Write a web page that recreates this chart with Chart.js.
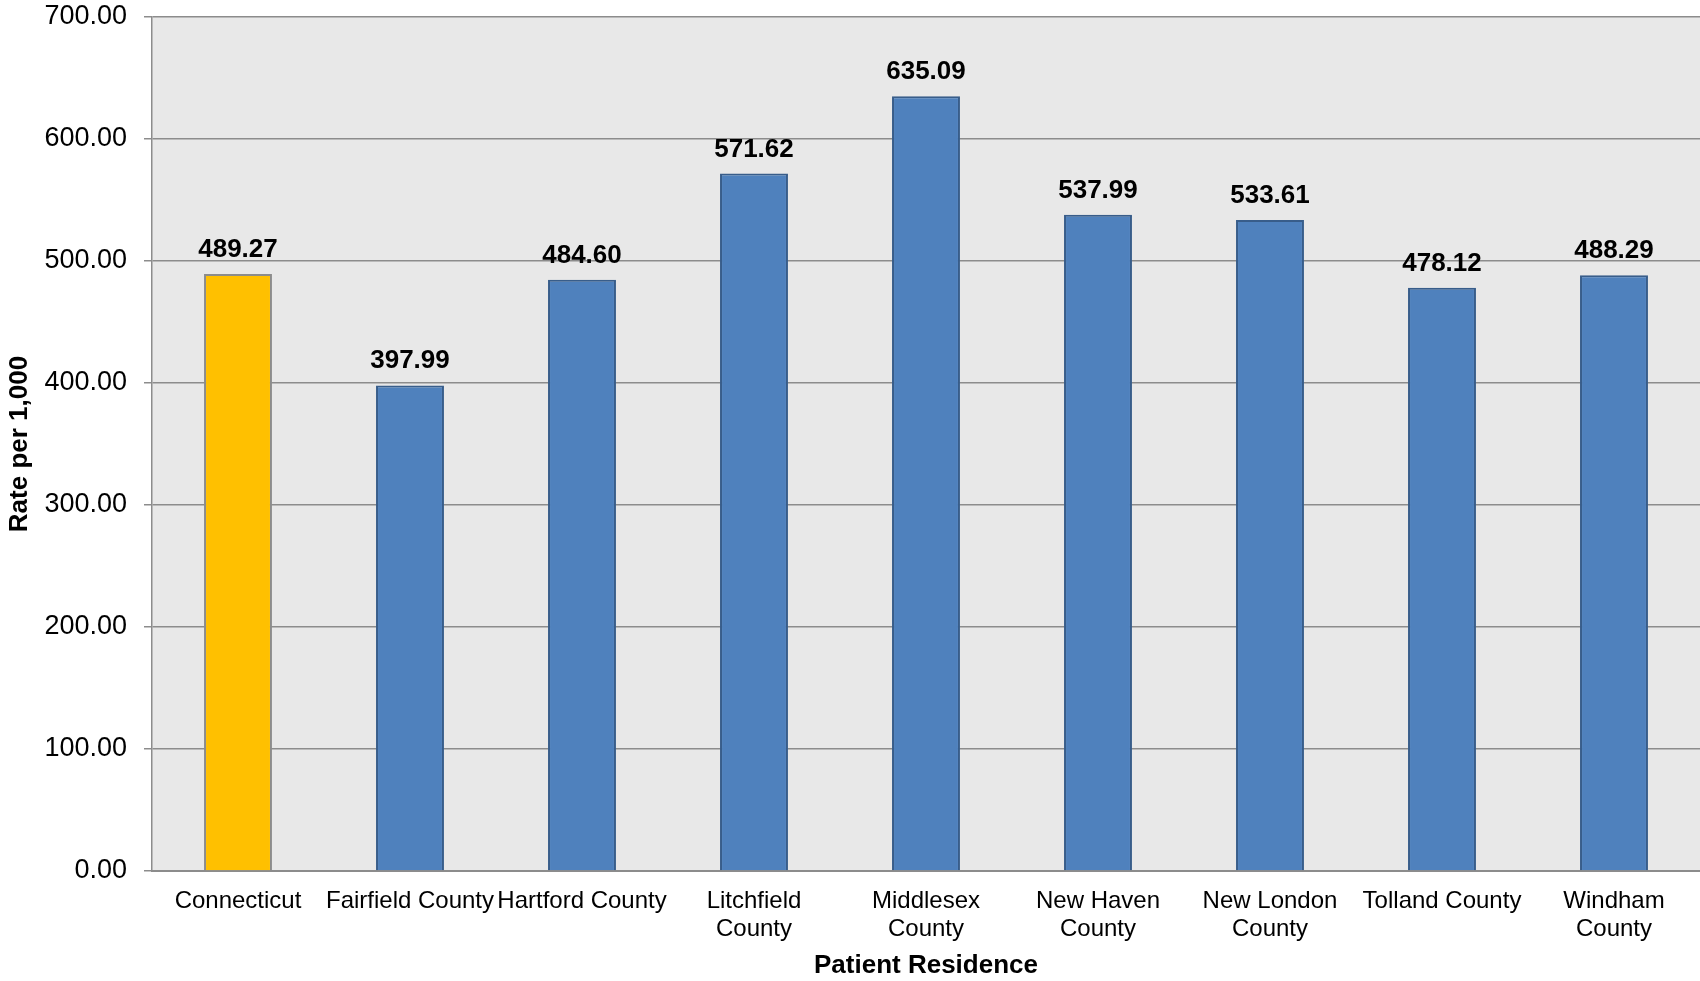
<!DOCTYPE html>
<html>
<head>
<meta charset="utf-8">
<script src="https://cdn.jsdelivr.net/npm/chart.js@4/dist/chart.umd.min.js"></script>
<style>
  html, body { margin: 0; padding: 0; background: #fff; }
  #wrap { width: 1700px; height: 981px; }
</style>
</head>
<body>
<div id="wrap"><canvas id="rateChart" width="1700" height="981"></canvas></div>
<script>
var counties = ['Connecticut', 'Fairfield County', 'Hartford County', ['Litchfield', 'County'], ['Middlesex', 'County'], ['New Haven', 'County'], ['New London', 'County'], 'Tolland County', ['Windham', 'County']];
var rates = [489.27, 397.99, 484.60, 571.62, 635.09, 537.99, 533.61, 478.12, 488.29];
var barColors = ['#FFC000', '#4F81BD', '#4F81BD', '#4F81BD', '#4F81BD', '#4F81BD', '#4F81BD', '#4F81BD', '#4F81BD'];
var borderColors = ['#8C8C8C', '#385D8A', '#385D8A', '#385D8A', '#385D8A', '#385D8A', '#385D8A', '#385D8A', '#385D8A'];

var font = "'Liberation Sans', Arial, sans-serif";

// grey plot background
var plotBg = {
  id: 'plotBg',
  beforeDraw: function(chart) {
    var a = chart.chartArea;
    var ctx = chart.ctx;
    ctx.save();
    ctx.fillStyle = '#E8E8E8';
    ctx.fillRect(a.left, a.top, a.right - a.left, a.bottom - a.top);
    ctx.restore();
  }
};

// value labels above the bars
var valueLabels = {
  id: 'valueLabels',
  afterDatasetsDraw: function(chart) {
    var ctx = chart.ctx;
    var meta = chart.getDatasetMeta(0);
    ctx.save();
    ctx.font = 'bold 26px ' + font;
    ctx.fillStyle = '#000';
    ctx.textAlign = 'center';
    ctx.textBaseline = 'alphabetic';
    meta.data.forEach(function(bar, i) {
      ctx.fillText(rates[i].toFixed(2), bar.x, bar.y - 17);
    });
    ctx.restore();
  }
};

new Chart(document.getElementById('rateChart'), {
  type: 'bar',
  data: {
    labels: counties,
    datasets: [{
      data: rates,
      backgroundColor: barColors,
      borderColor: borderColors,
      borderWidth: 2,
      categoryPercentage: 1,
      barPercentage: 0.395
    }]
  },
  options: {
    responsive: false,
    animation: false,
    layout: { padding: { top: 17, right: 0, left: 0, bottom: 0 } },
    plugins: {
      legend: { display: false },
      tooltip: { enabled: false }
    },
    scales: {
      x: {
        grid: { display: false },
        border: { color: '#8C8C8C', width: 2 },
        ticks: {
          color: '#000',
          padding: 8,
          maxRotation: 0,
          autoSkip: false,
          font: { family: font, size: 24, lineHeight: 1.17 }
        },
        title: {
          display: true,
          text: 'Patient Residence',
          color: '#000',
          padding: { top: 6, bottom: 0 },
          font: { family: font, size: 26, weight: 'bold' }
        },
        afterFit: function(scale) {
          scale.height = 110;
          scale.paddingLeft = 0;
          scale.paddingRight = 0;
        }
      },
      y: {
        min: 0,
        max: 700,
        grid: { color: '#8C8C8C', lineWidth: 1.5, tickLength: 8 },
        border: { color: '#8C8C8C', width: 1.5 },
        ticks: {
          stepSize: 100,
          color: '#000',
          padding: 17,
          font: { family: font, size: 27 },
          callback: function(v) { return v.toFixed(2); }
        },
        title: {
          display: true,
          text: 'Rate per 1,000',
          color: '#000',
          padding: { top: 4, bottom: 0 },
          font: { family: font, size: 26, weight: 'bold' }
        },
        afterFit: function(scale) {
          scale.width = 152;
          scale.paddingTop = 0;
          scale.paddingBottom = 0;
        }
      }
    }
  },
  plugins: [plotBg, valueLabels]
});
</script>
</body>
</html>
